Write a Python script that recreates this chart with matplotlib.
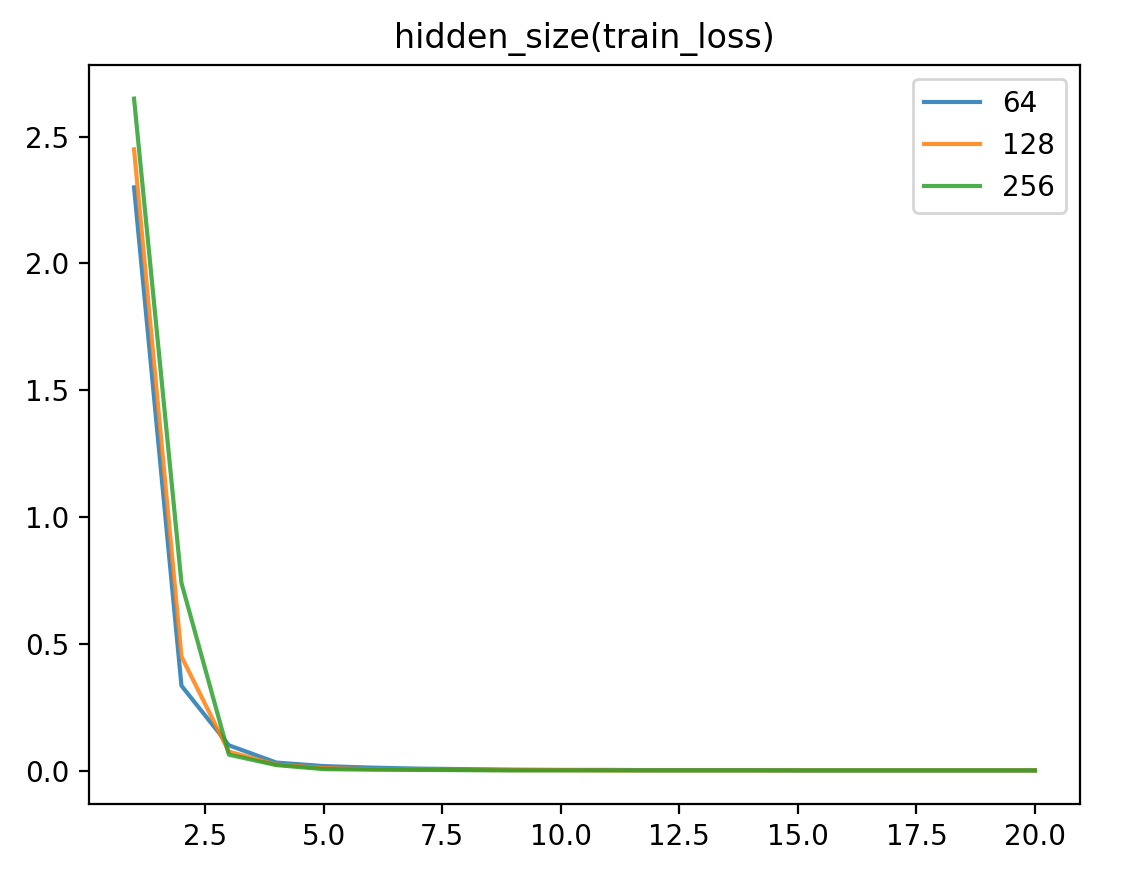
import matplotlib
matplotlib.use("Agg")
import matplotlib.pyplot as plt

# epochs and train loss per hidden size
epochs = list(range(1, 21))
loss_64 = [2.30, 0.335, 0.100, 0.032, 0.018, 0.012, 0.008, 0.006, 0.004, 0.003,
           0.003, 0.002, 0.002, 0.002, 0.001, 0.001, 0.001, 0.001, 0.001, 0.001]
loss_128 = [2.45, 0.450, 0.075, 0.024, 0.010, 0.006, 0.004, 0.003, 0.002, 0.002,
            0.001, 0.001, 0.001, 0.001, 0.001, 0.001, 0.001, 0.001, 0.001, 0.001]
loss_256 = [2.65, 0.740, 0.063, 0.022, 0.006, 0.004, 0.003, 0.002, 0.001, 0.001,
            0.001, 0.001, 0.001, 0.001, 0.001, 0.001, 0.001, 0.001, 0.001, 0.001]
labels = ["64", "128", "256"]

fig = plt.figure(figsize=(1129 / 200, 869 / 200), dpi=200)
ax = fig.add_axes([89 / 1129, 1 - 804 / 869, (1080 - 89) / 1129, (804 - 65) / 869])

for series, name in zip([loss_64, loss_128, loss_256], labels):
    ax.plot(epochs, series, label=name, alpha=0.85)

ax.set_title("hidden_size(train_loss)")
ax.legend()
fig.savefig("out.png", dpi=200)
